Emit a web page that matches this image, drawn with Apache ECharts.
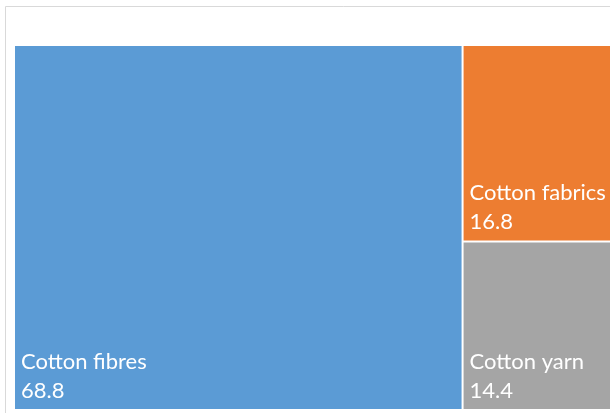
<!DOCTYPE html>
<html><head><meta charset="utf-8">
<script src="https://cdn.jsdelivr.net/npm/echarts@6/dist/echarts.min.js"></script>
<style>html,body{margin:0;padding:0;overflow:hidden;background:#fff;width:610px;height:413px}#c{width:680px;height:420px}</style>
</head><body><div id="c"></div>
<script>
const categories = ["Cotton fibres", "Cotton fabrics", "Cotton yarn"];
const values = [68.8, 16.8, 14.4];
const colors = ["#5B9BD5", "#ED7D31", "#A5A5A5"];

const chart = echarts.init(document.getElementById('c'), null, {renderer: 'canvas'});
chart.setOption({
  animation: false,
  graphic: [{
    type: 'rect', shape: {x: 5.5, y: 6.5, width: 700, height: 500},
    style: {fill: 'none', stroke: '#D9D9D9', lineWidth: 1}, silent: true
  }],
  series: [{
    type: 'treemap',
    left: 15, top: 46, width: 650, height: 363,
    roam: false, nodeClick: false,
    breadcrumb: {show: false},
    levels: [{itemStyle: {gapWidth: 2, borderWidth: 0, borderColor: '#fff'}}],
    label: {
      show: true, position: 'insideBottomLeft', distance: 1, offset: [0, 2],
      formatter: '{b}\n{c}', color: '#fff',
      fontFamily: 'Lato, "Open Sans", sans-serif', fontSize: 22, lineHeight: 29
    },
    itemStyle: {borderWidth: 0},
    data: categories.map((n, i) => ({name: n, value: values[i], itemStyle: {color: colors[i]}}))
  }]
});
</script></body></html>
